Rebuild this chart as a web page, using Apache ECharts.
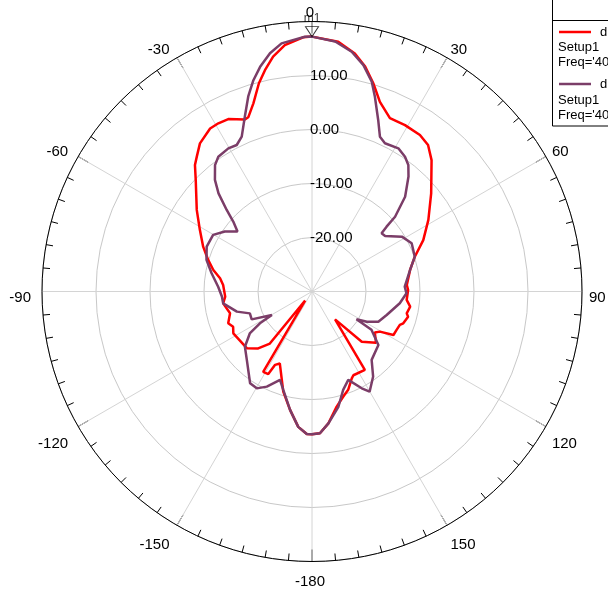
<!DOCTYPE html>
<html>
<head>
<meta charset="utf-8">
<script src="https://cdn.jsdelivr.net/npm/echarts@6/dist/echarts.min.js"></script>
<style>
  html, body { margin: 0; padding: 0; background: #ffffff; }
  #chart { width: 608px; height: 596px; }
</style>
</head>
<body>
<div id="chart"></div>
<script>
// Radiation pattern, gain in dB versus theta (deg)
const radiusTicks = [-30, -20, -10, 0, 10, 20];
const angleTickLabels = ['0', '30', '60', '90', '120', '150', '-180', '-150', '-120', '-90', '-60', '-30'];

// Trace 1 (red)
const redAngle = [-177.9, -174.2, -169.5, -164, -155.9, -153.3, -152.1, -148.7, -142.7, -141, -136.6, -131,
  -118, -114.1, -110.8, -104.9, -97.6, -93.4, -85.8, -81.8, -77.7, -73.1, -67.6, -61.2, -54.7, -46.2,
  -42.8, -40.5, -37.1, -32, -29.1, -25.9, -21.3, -20.1, -17.3, -14.3, -12, -9.4, -6.3, -2, 0,
  6, 10.2, 13.3, 16.4, 19.7, 24.2, 29.2, 34.6, 38.4, 42.3, 50.5, 58.4, 65.2, 71.3, 77.6, 86.1, 89.1,
  95.1, 98.8, 103, 104.7, 109.2, 110.8, 114.4, 118.1, 120.6, 123.2, 128.7, 135.3, 140.4, 146, 153.7,
  155.4, 159.8, 163.4, 167.9, 172.9, 176.8, 180];
const redGain = [-3.6, -4.8, -7.7, -10.7, -15.4, -14.8, -12.7, -12.6, -27.9, -17.6, -15.5, -14.0,
  -13.5, -14.0, -13.4, -14.3, -13.4, -13.9, -13.5, -12.8, -11.3, -9.9, -8.2, -6.3, -3.85, -0.17,
  1.9, 2.85, 4.4, 5.6, 5.65, 5.5, 4.2, 4.35, 6.5, 9.8, 11.9, 14.1, 15.9, 17.1, 17.2,
  16.5, 14.8, 12.8, 10.2, 7.3, 5.2, 5.3, 5.2, 4.6, 2.9, -1.4, -4.7, -7.3, -9.9, -11.4, -12.4, -12.2,
  -12.4, -11.6, -12.0, -11.6, -12.1, -12.6, -12.8, -12.9, -15.4, -16.1, -14.8, -16.9, -23.3, -12.5, -12.7,
  -12.3, -10.6, -9.7, -8.2, -5.4, -3.7, -3.55];

// Trace 2 (purple)
const purpleAngle = [-177.9, -174.2, -169.5, -163.8, -160.1, -154.6, -150.3, -146, -136.4, -129.5, -124,
  -121.4, -120.3, -114.8, -109.4, -105, -97.6, -93.3, -87.1, -79.7, -73.3, -66.9, -60.2, -55.5, -51.2,
  -48.4, -46.3, -43.6, -41, -37.5, -34.8, -30.3, -27.2, -24.4, -21, -18.1, -15.5, -13, -10, -7, -1.6, 0,
  5.3, 9.4, 12.8, 15.9, 17.9, 21.1, 23.7, 26.2, 31.1, 34.6, 37.3, 40, 44.5, 48, 49, 50.1, 52.8, 58.6,
  64.2, 71.3, 77.6, 87, 91.1, 97.6, 107.5, 114.5, 118.9, 121.9, 122.8, 128.9, 138.9, 144.3, 150.1,
  152.8, 157.7, 162.4, 167.1, 172.9, 176.8, 180];
const purpleGain = [-3.6, -4.8, -7.7, -11.0, -12.6, -10.5, -9.35, -9.5, -12.5, -13.9, -16.1,
  -18.7, -21.4, -17.7, -17.8, -15.6, -13.4, -13.3, -12.6, -11.1, -9.6, -8.8, -8.9, -10.4, -12.3,
  -10.5, -8.15, -4.9, -2.6, -0.5, 0.4, 0.7, 0.5, 1.5, 4.7, 8.0, 10.6, 12.7, 14.8, 16.3, 17.2, 17.2,
  16.5, 15.0, 13.0, 10.4, 7.9, 4.05, 1.3, 0.6, 0.96, 0.33, -0.56, -2.2, -5.4, -9.3, -11.7, -13.2, -13.0, -10.5,
  -9.5, -9.9, -11.4, -12.8, -12.5, -13.6, -15.5, -16.5, -18.4, -20.3, -16.9, -14.2, -13.2, -10.6, -8.6,
  -9.85, -12.3, -10.9, -8.1, -5.4, -3.7, -3.55];

// Marker m1
const markerAngle = [0];
const markerGain = [17.2];

// Map theta (-180..180) onto the 0..360 angle axis and close the loop
function toLoop(angles, gains) {
  const pts = angles.map((a, i) => [gains[i], a < 0 ? a + 360 : a]);
  pts.sort((p, q) => p[1] - q[1]);
  pts.push([pts[0][0], 360]);
  return pts;
}

const font = "'Liberation Sans', Arial, sans-serif";
const chart = echarts.init(document.getElementById('chart'), null, { renderer: 'canvas' });

chart.setOption({
  animation: false,
  backgroundColor: '#ffffff',
  polar: { center: [312, 291.5], radius: 270 },
  angleAxis: {
    type: 'value', min: 0, max: 360, interval: 30, startAngle: 90, clockwise: true,
    axisLine: { lineStyle: { color: '#000', width: 1 } },
    axisTick: { show: true, inside: true, length: 12, lineStyle: { color: '#000', width: 1 } },
    minorTick: { show: true, splitNumber: 6, length: 7, lineStyle: { color: '#000', width: 1 } },
    splitLine: { show: true, lineStyle: { color: '#d4d4d4', width: 1 } },
    axisLabel: {
      margin: 7, fontSize: 15, color: '#000', fontFamily: font,
      lineHeight: 3, padding: [12, 4, 0, 0],
      rich: { side: { fontSize: 15, fontFamily: font, color: '#000', lineHeight: 15 } },
      formatter: v => {
        if (v >= 360) return '';
        const t = angleTickLabels[Math.round(v / 30) % 12];
        return (v === 90 || v === 270) ? '{side|' + t + '}' : t;
      }
    }
  },
  radiusAxis: {
    type: 'value', min: radiusTicks[0], max: radiusTicks[radiusTicks.length - 1], interval: 10,
    axisLine: { show: false }, axisTick: { show: false },
    splitLine: { show: true, lineStyle: { color: '#c8c8c8', width: 1 } },
    axisLabel: {
      margin: 2, align: 'left', verticalAlign: 'middle', padding: [0, 0, 6, 0],
      fontSize: 15, color: '#000', fontFamily: font,
      formatter: v => (v === radiusTicks[0] || v === radiusTicks[radiusTicks.length - 1]) ? '' : v.toFixed(2)
    }
  },
  series: [
    {
      name: 'red', type: 'line', coordinateSystem: 'polar', showSymbol: false, smooth: false,
      data: toLoop(redAngle, redGain),
      lineStyle: { color: '#ff0000', width: 2.5 }, z: 3
    },
    {
      name: 'purple', type: 'line', coordinateSystem: 'polar', showSymbol: false, smooth: false,
      data: toLoop(purpleAngle, purpleGain),
      lineStyle: { color: '#7b3d68', width: 2.5 }, z: 4
    },
    {
      name: 'm1', type: 'scatter', coordinateSystem: 'polar',
      data: markerGain.map((g, i) => [g, markerAngle[i]]),
      symbol: 'path://M0,0 L14,0 L7,11 Z', symbolSize: [13, 10], symbolOffset: [0, -5],
      itemStyle: { color: 'rgba(255,255,255,0)', borderColor: '#000', borderWidth: 1 },
      label: { show: true, position: 'top', distance: 1, formatter: 'm1', fontSize: 12, color: '#000', fontFamily: font },
      z: 6
    }
  ],
  graphic: [
    { type: 'rect', shape: { x: 552.5, y: -1, width: 80, height: 127 }, style: { fill: '#fff', stroke: '#000', lineWidth: 1 }, z: 10 },
    { type: 'line', shape: { x1: 552.5, y1: 20.5, x2: 620, y2: 20.5 }, style: { stroke: '#000', lineWidth: 1 }, z: 11 },
    { type: 'line', shape: { x1: 559, y1: 32, x2: 591, y2: 32 }, style: { stroke: '#ff0000', lineWidth: 2.5 }, z: 11 },
    { type: 'text', x: 600, y: 32, style: { text: 'dB(GainTotal)', font: '13px ' + font, fill: '#000', verticalAlign: 'middle' }, z: 11 },
    { type: 'text', x: 558, y: 47, style: { text: 'Setup1', font: '13px ' + font, fill: '#000', verticalAlign: 'middle' }, z: 11 },
    { type: 'text', x: 558, y: 62, style: { text: "Freq='40GHz'", font: '13px ' + font, fill: '#000', verticalAlign: 'middle' }, z: 11 },
    { type: 'line', shape: { x1: 559, y1: 84, x2: 591, y2: 84 }, style: { stroke: '#7b3d68', lineWidth: 2.5 }, z: 11 },
    { type: 'text', x: 600, y: 84, style: { text: 'dB(GainTotal)', font: '13px ' + font, fill: '#000', verticalAlign: 'middle' }, z: 11 },
    { type: 'text', x: 558, y: 100, style: { text: 'Setup1', font: '13px ' + font, fill: '#000', verticalAlign: 'middle' }, z: 11 },
    { type: 'text', x: 558, y: 115, style: { text: "Freq='40GHz'", font: '13px ' + font, fill: '#000', verticalAlign: 'middle' }, z: 11 }
  ]
});
</script>
</body>
</html>
